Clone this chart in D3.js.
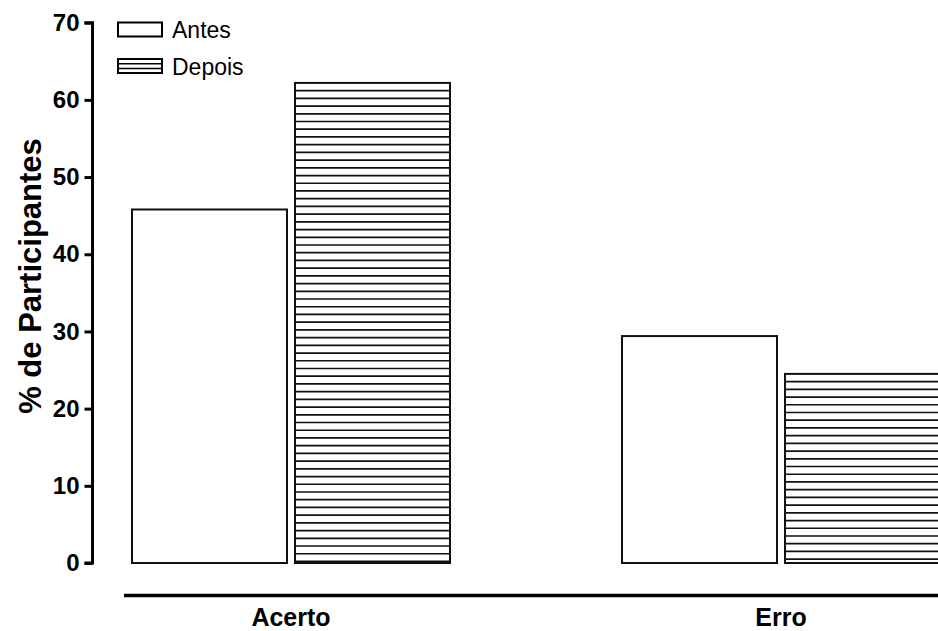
<!DOCTYPE html>
<html>
<head>
<meta charset="utf-8">
<script src="https://cdn.jsdelivr.net/npm/d3@7"></script>
<style>
  html, body { margin: 0; padding: 0; background: #fff; overflow: hidden; }
  text { font-family: "Liberation Sans", Arial, sans-serif; fill: #000; }
</style>
</head>
<body>
<svg id="chart" width="938" height="631"></svg>
<script>
const categories = ["Acerto", "Erro"];
const seriesNames = ["Antes", "Depois"];
const antesValues = [45.8, 29.4];
const depoisValues = [62.2, 24.5];
const yTicks = [0, 10, 20, 30, 40, 50, 60, 70];
const yTitle = "% de Participantes";

const svg = d3.select("#chart");
const W = 938, H = 631;

const y = d3.scaleLinear().domain([0, 70]).range([563, 22.7]);
const x0 = d3.scaleBand().domain(categories).range([132, 940]).paddingInner(0.351).paddingOuter(0);
const x1 = d3.scaleBand().domain(seriesNames).range([0, x0.bandwidth()]).paddingInner(0.049).paddingOuter(0);

const data = [];
categories.forEach((c, i) => {
  data.push({cat: c, s: "Antes", v: antesValues[i]});
  data.push({cat: c, s: "Depois", v: depoisValues[i]});
});

const hatchStep = (y(0) - y(1)); // one percent per hatch line

const bars = svg.append("g");
data.forEach(d => {
  const bx = x0(d.cat) + x1(d.s);
  const bw = x1.bandwidth();
  const top = y(d.v), bot = y(0);
  const g = bars.append("g");
  g.append("rect")
    .attr("x", bx).attr("y", top).attr("width", bw).attr("height", bot - top)
    .attr("fill", "#fff").attr("stroke", "#111").attr("stroke-width", 2);
  if (d.s === "Depois") {
    const lines = d3.range(top + hatchStep, bot - 1, hatchStep);
    g.selectAll("line").data(lines).enter().append("line")
      .attr("x1", bx).attr("x2", bx + bw)
      .attr("y1", v => v).attr("y2", v => v)
      .attr("stroke", "#111").attr("stroke-width", 1.7);
  }
});

// Y axis
const yAxis = d3.axisLeft(y).tickValues(yTicks).tickSize(8).tickPadding(5).tickFormat(d3.format("d"));
const gy = svg.append("g").attr("transform", "translate(92.5,0)").call(yAxis);
gy.select(".domain").attr("stroke", "#000").attr("stroke-width", 3).attr("d", `M-8,${y(70)}H0V${y(0)}H-8`);
gy.selectAll(".tick line").attr("stroke", "#000").attr("stroke-width", 3);
gy.selectAll(".tick text").attr("font-size", 24).attr("font-weight", "bold")
  .attr("font-family", "Liberation Sans, Arial, sans-serif").attr("fill", "#000");

// X axis (separate baseline)
const xAxis = d3.axisBottom(x0).tickSize(0).tickPadding(13);
const gx = svg.append("g").attr("transform", "translate(0,595.5)").call(xAxis);
gx.select(".domain").attr("stroke", "#000").attr("stroke-width", 3.5).attr("d", `M124,0H${W + 10}`);
gx.selectAll(".tick text").attr("font-size", 25).attr("font-weight", "bold")
  .attr("font-family", "Liberation Sans, Arial, sans-serif").attr("fill", "#000")
  .attr("dy", "0.71em");

// Y title
svg.append("text")
  .attr("transform", `translate(41,276) rotate(-90)`)
  .attr("text-anchor", "middle")
  .attr("font-size", 31).attr("font-weight", "bold")
  .text(yTitle);

// Legend
const legend = svg.append("g");
seriesNames.forEach((s, i) => {
  const ly = 22.5 + i * 36.5;
  const lg = legend.append("g").attr("transform", `translate(118,${ly})`);
  lg.append("rect").attr("x", 0).attr("y", 0).attr("width", 44).attr("height", 14)
    .attr("fill", "#fff").attr("stroke", "#000").attr("stroke-width", 2);
  if (s === "Depois") {
    [4.7, 9.4].forEach(v => lg.append("line").attr("x1", 0).attr("x2", 44).attr("y1", v).attr("y2", v)
      .attr("stroke", "#000").attr("stroke-width", 1.5));
  }
  lg.append("text").attr("x", 54).attr("y", 15.5).attr("font-size", 23).text(s);
});
</script>
</body>
</html>
